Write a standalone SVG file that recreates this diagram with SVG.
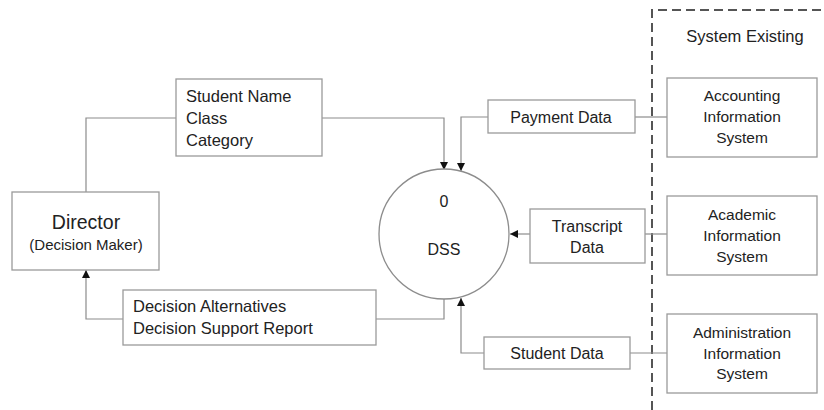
<svg xmlns="http://www.w3.org/2000/svg" width="824" height="410" viewBox="0 0 824 410">
<style>
.box{fill:#fff;stroke:#9a9a9a;stroke-width:1.3}
.ln{fill:none;stroke:#8c8c8c;stroke-width:1.2}
text{font-family:"Liberation Sans",Arial,sans-serif;fill:#222;font-size:16px}
.c{text-anchor:middle}
.sm{font-size:15.5px}
</style>
<defs>
<marker id="ah" viewBox="0 0 10 10" refX="10" refY="5" markerWidth="8" markerHeight="8" markerUnits="userSpaceOnUse" orient="auto">
<path d="M0,0 L10,5 L0,10 z" fill="#111"/>
</marker>
</defs>
<rect width="824" height="410" fill="#fff"/>
<g id="boundary">
<path d="M652,410 L652,10 L824,10" fill="none" stroke="#555" stroke-width="2" stroke-dasharray="9,5"/>
<text x="745" y="42" class="c" style="font-size:16.5px">System Existing</text>
</g>
<g id="connectors">
<path class="ln" d="M86,192 L86,118 L176,118"/>
<path class="ln" d="M322,118 L444,118 L444,170" marker-end="url(#ah)"/>
<path class="ln" d="M667,117 L635,117"/>
<path class="ln" d="M488,117 L461,117 L461,171" marker-end="url(#ah)"/>
<path class="ln" d="M667,234 L645,234"/>
<path class="ln" d="M530,234 L510,234" marker-end="url(#ah)"/>
<path class="ln" d="M667,353 L630,353"/>
<path class="ln" d="M484,353 L461,353 L461,298" marker-end="url(#ah)"/>
<path class="ln" d="M444,299 L444,319 L376,319"/>
<path class="ln" d="M123,319 L86,319 L86,270" marker-end="url(#ah)"/>
</g>
<g id="dss">
<circle cx="444" cy="234" r="65" fill="#fff" stroke="#8c8c8c" stroke-width="1.3"/>
<text x="444" y="207" class="c">0</text>
<text x="444" y="255" class="c">DSS</text>
</g>
<g id="director">
<rect class="box" x="12" y="192" width="147" height="78"/>
<text x="86" y="229" class="c" style="font-size:19.5px">Director</text>
<text x="86" y="250" class="c" style="font-size:15px">(Decision Maker)</text>
</g>
<g id="label-student-name">
<rect class="box" x="176" y="79" width="146" height="77"/>
<text x="186" y="102" style="font-size:16.5px">Student Name</text>
<text x="186" y="124" style="font-size:16.5px">Class</text>
<text x="186" y="146" style="font-size:16.5px">Category</text>
</g>
<g id="label-decision">
<rect class="box" x="123" y="290" width="253" height="55"/>
<text x="133" y="312" style="font-size:16.5px">Decision Alternatives</text>
<text x="133" y="334" style="font-size:16.5px">Decision Support Report</text>
</g>
<g id="label-payment">
<rect class="box" x="488" y="100" width="147" height="33"/>
<text x="561" y="123" class="c">Payment Data</text>
</g>
<g id="label-transcript">
<rect class="box" x="530" y="209" width="115" height="54"/>
<text x="587" y="232" class="c">Transcript</text>
<text x="587" y="253" class="c">Data</text>
</g>
<g id="label-student-data">
<rect class="box" x="484" y="337" width="146" height="32"/>
<text x="557" y="359" class="c">Student Data</text>
</g>
<g id="accounting">
<rect class="box" x="667" y="78" width="150" height="79"/>
<text x="742" y="101" class="c sm">Accounting</text>
<text x="742" y="122" class="c sm">Information</text>
<text x="742" y="143" class="c sm">System</text>
</g>
<g id="academic">
<rect class="box" x="667" y="196" width="150" height="79"/>
<text x="742" y="220" class="c sm">Academic</text>
<text x="742" y="241" class="c sm">Information</text>
<text x="742" y="262" class="c sm">System</text>
</g>
<g id="administration">
<rect class="box" x="667" y="314" width="150" height="79"/>
<text x="742" y="338" class="c sm">Administration</text>
<text x="742" y="359" class="c sm">Information</text>
<text x="742" y="379" class="c sm">System</text>
</g>
</svg>
